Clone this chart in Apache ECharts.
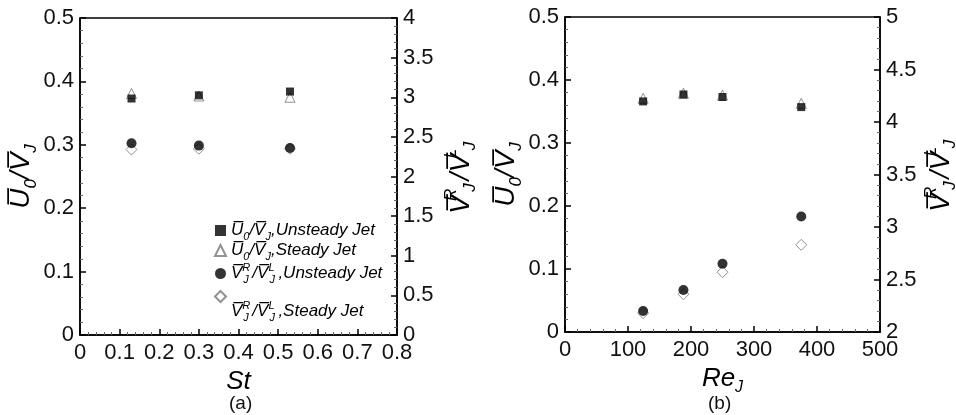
<!DOCTYPE html>
<html><head><meta charset="utf-8">
<script src="https://cdn.jsdelivr.net/npm/echarts@6/dist/echarts.min.js"></script>
<style>html,body{margin:0;padding:0;background:#fff}#c{width:956px;height:415px}</style>
</head><body><div id="c"></div>
<script>
// Panel (a): Strouhal number sweep
const stA = [0.13, 0.30, 0.53];
const u0UnsteadyA = [0.373, 0.378, 0.384];
const u0SteadyA = [0.381, 0.377, 0.375];
const vrUnsteadyA = [2.42, 2.39, 2.36];
const vrSteadyA = [2.34, 2.35, 2.35];
// Panel (b): Reynolds number sweep
const reB = [124, 188, 250, 375];
const u0UnsteadyB = [0.366, 0.377, 0.373, 0.357];
const u0SteadyB = [0.371, 0.379, 0.376, 0.363];
const vrUnsteadyB = [2.20, 2.40, 2.65, 3.10];
const vrSteadyB = [2.18, 2.36, 2.57, 2.83];
const panelLabels = ['(a)', '(b)'];
const seriesNames = ['U0/VJ, Unsteady Jet', 'U0/VJ, Steady Jet', 'VR/VL, Unsteady Jet', 'VR/VL, Steady Jet'];

const FF = "'Liberation Sans', Arial, Helvetica, sans-serif";
const OL = '\u0305';
const rich = (fs, lh) => ({
  i: {fontFamily: FF, fontStyle: 'italic', fontSize: fs, lineHeight: lh || Math.round(fs * 1.3), color: '#000'},
  s: {fontFamily: FF, fontStyle: 'italic', fontSize: Math.round(fs * 0.62), verticalAlign: 'bottom', color: '#000'},
  p: {fontFamily: FF, fontStyle: 'italic', fontSize: Math.round(fs * 0.62), verticalAlign: 'top', width: 1, color: '#000'},
  q: {fontFamily: FF, fontStyle: 'italic', fontSize: Math.round(fs * 0.62), verticalAlign: 'bottom', width: Math.round(fs * 0.5), color: '#000'},
  e: {fontFamily: FF, fontSize: 10, lineHeight: 30, color: '#000'}
});
const u0Label = '{i|U' + OL + '}{s|0}{i|/V' + OL + '}{s|J}';
const vrLabel = '{i|V' + OL + '}{p|R}{q|J}{i|/V' + OL + '}{p|L}{q|J}';
const legendText = {
  [seriesNames[0]]: u0Label + '{i|,Unsteady Jet}',
  [seriesNames[1]]: u0Label + '{i|,Steady Jet}',
  [seriesNames[2]]: vrLabel + '{i|,Unsteady Jet}',
  [seriesNames[3]]: '{e| }\n' + vrLabel + '{i|,Steady Jet}'
};

const tickStyle = {show: true, inside: true, length: 6, lineStyle: {color: '#000', width: 1.5}};
const minorStyle = {show: true, splitNumber: 5, length: 3, lineStyle: {color: '#666', width: 1}};
const lineStyle = {show: true, lineStyle: {color: '#000', width: 1.5}};
const labelStyle = (m) => ({fontFamily: FF, fontSize: 22, color: '#111', margin: m});

function xAx(gi, min, max, interval, nameRich) {
  return {gridIndex: gi, type: 'value', min, max, interval,
    axisLine: lineStyle, axisTick: tickStyle, minorTick: minorStyle, splitLine: {show: false},
    axisLabel: labelStyle(7),
    name: nameRich, nameLocation: 'middle', nameGap: 23,
    nameTextStyle: {rich: rich(26)}};
}
function yAx(gi, pos, min, max, interval, nameRich, gap) {
  return {gridIndex: gi, type: 'value', position: pos, min, max, interval,
    axisLine: lineStyle, axisTick: tickStyle, minorTick: minorStyle, splitLine: {show: false},
    axisLabel: labelStyle(6),
    name: nameRich, nameLocation: 'middle', nameRotate: 90, nameGap: gap,
    nameTextStyle: {rich: rich(28)}};
}
const pairs = (xs, ys) => xs.map((x, k) => [x, ys[k]]);
const hollow = {color: '#fff', borderColor: '#777', borderWidth: 1};
const filled = {color: '#000'};
function mk(name, xi, yi, data, symbol, size, style, z) {
  return {name, type: 'scatter', xAxisIndex: xi, yAxisIndex: yi, data, symbol, symbolSize: size,
    itemStyle: style, z, emphasis: {disabled: true}, silent: true};
}
const legendCommon = {orient: 'vertical', itemGap: 0, itemWidth: 11, itemHeight: 11, selectedMode: false,
  formatter: (n) => legendText[n], textStyle: {rich: rich(17, 23)}};

const option = {
  animation: false,
  backgroundColor: '#fff',
  grid: [
    {left: 80, right: 559, top: 18, bottom: 80, outerBoundsMode: 'none', containLabel: false, show: true, borderColor: '#000', borderWidth: 1.5, backgroundColor: 'transparent'},
    {left: 565, right: 76, top: 17, bottom: 83, outerBoundsMode: 'none', containLabel: false, show: true, borderColor: '#000', borderWidth: 1.5, backgroundColor: 'transparent'}
  ],
  xAxis: [
    xAx(0, 0, 0.8, 0.1, '{i|St}'),
    xAx(1, 0, 500, 100, '{i|Re}{s|J}')
  ],
  yAxis: [
    yAx(0, 'left', 0, 0.5, 0.1, u0Label, 40),
    yAx(0, 'right', 0, 4, 0.5, vrLabel, 46),
    yAx(1, 'left', 0, 0.5, 0.1, u0Label, 40),
    yAx(1, 'right', 2, 5, 0.5, vrLabel, 43)
  ],
  legend: [
    Object.assign({data: seriesNames.slice(0, 3), left: 209, top: 217}, legendCommon),
    Object.assign({data: seriesNames.slice(3), left: 209, top: 275}, legendCommon)
  ],
  graphic: [
    {type: 'text', left: 229, top: 394, style: {text: panelLabels[0], font: "19px " + FF, fill: '#111'}},
    {type: 'text', left: 708, top: 394, style: {text: panelLabels[1], font: "19px " + FF, fill: '#111'}}
  ],
  series: [
    mk(seriesNames[1], 0, 0, pairs(stA, u0SteadyA), 'triangle', 10, hollow, 2),
    mk(seriesNames[0], 0, 0, pairs(stA, u0UnsteadyA), 'rect', 8, filled, 3),
    mk(seriesNames[3], 0, 1, pairs(stA, vrSteadyA), 'diamond', 11, hollow, 2),
    mk(seriesNames[2], 0, 1, pairs(stA, vrUnsteadyA), 'circle', 10, filled, 3),
    mk(seriesNames[1], 1, 2, pairs(reB, u0SteadyB), 'triangle', 10, hollow, 2),
    mk(seriesNames[0], 1, 2, pairs(reB, u0UnsteadyB), 'rect', 8, filled, 3),
    mk(seriesNames[3], 1, 3, pairs(reB, vrSteadyB), 'diamond', 11, hollow, 2),
    mk(seriesNames[2], 1, 3, pairs(reB, vrUnsteadyB), 'circle', 10, filled, 3)
  ]
};
const chart = echarts.init(document.getElementById('c'), null, {renderer: 'canvas'});
chart.setOption(option);
</script></body></html>
